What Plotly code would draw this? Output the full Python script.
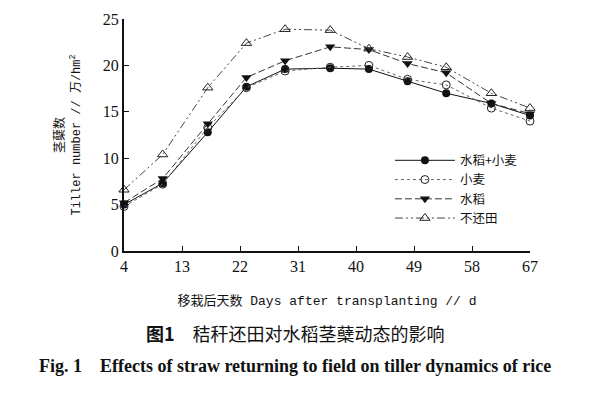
import plotly.graph_objects as go

days = [4, 10, 17, 23, 29, 36, 42, 48, 54, 61, 67]
rice_wheat = [5.0, 7.3, 12.8, 17.7, 19.6, 19.7, 19.6, 18.3, 17.0, 15.9, 14.6]
wheat = [4.8, 7.2, 13.3, 17.6, 19.4, 19.8, 20.0, 18.5, 17.9, 15.4, 14.0]
rice = [5.2, 7.8, 13.7, 18.7, 20.5, 22.0, 21.7, 20.2, 19.2, 15.9, 14.8]
no_return = [6.6, 10.4, 17.6, 22.4, 23.9, 23.8, 21.8, 20.9, 19.8, 17.0, 15.4]

x_ticks = [4, 13, 22, 31, 40, 49, 58, 67]
y_ticks = [0, 5, 10, 15, 20, 25]

names = ["水稻+小麦", "小麦", "水稻", "不还田"]

series = [
    (names[0], rice_wheat, dict(color="#111", width=1), dict(symbol="circle", size=8, color="#111")),
    (names[1], wheat, dict(color="#666", width=1, dash="dot"), dict(symbol="circle-open", size=8, color="#222", line=dict(width=1))),
    (names[2], rice, dict(color="#333", width=1, dash="7px,3px"), dict(symbol="triangle-down", size=9, color="#111")),
    (names[3], no_return, dict(color="#444", width=1, dash="8px,3px,2px,3px,2px,3px"), dict(symbol="triangle-up-open", size=9, color="#222", line=dict(width=1))),
]

fig = go.Figure()
for name, vals, line, marker in series:
    fig.add_trace(go.Scatter(x=days, y=vals, name=name, mode="lines+markers",
                             line=line, marker=marker, cliponaxis=False))

# page body has an 8px margin; figure coords = screen coords - 8
OFF = 8
W, H = 600 - OFF, 393 - OFF
L, T = 124 - OFF, 19 - OFF
R = W - (530 - OFF)
B = H - (251 - OFF)
pw, ph = W - L - R, H - T - B

serif = "Liberation Serif, Noto Sans CJK SC"
mono = "Liberation Mono, Noto Sans CJK SC"
fig.update_layout(
    width=W, height=H,
    margin=dict(l=L, r=R, t=T, b=B, autoexpand=False),
    paper_bgcolor="white", plot_bgcolor="white",
    showlegend=True,
    legend=dict(x=0.655, y=0.454, xanchor="left", yanchor="top",
                font=dict(family="Noto Sans CJK SC", size=12.5, color="#111"),
                bgcolor="rgba(0,0,0,0)", tracegroupgap=0, itemwidth=60),
    xaxis=dict(range=[4, 67], tickvals=x_ticks, ticks="inside", ticklen=5,
               showline=True, linecolor="#111", linewidth=2, tickcolor="#111",
               showgrid=False, zeroline=False, automargin=False,
               tickfont=dict(family=serif, size=16, color="#111"),
               title=dict(text="移栽后天数 Days after transplanting // d",
                          font=dict(family=mono, size=13, color="#111"),
                          standoff=22)),
    yaxis=dict(range=[0, 25], tickvals=y_ticks, ticks="inside", ticklen=5,
               showline=True, linecolor="#111", linewidth=2, tickcolor="#111",
               showgrid=False, zeroline=False, automargin=False,
               tickfont=dict(family=serif, size=16, color="#111"),
               title=dict(text="茎蘖数<br>Tiller number // 万/hm<sup>2</sup>",
                          font=dict(family=mono, size=12, color="#111"),
                          standoff=20)),
)

caption_cn = "<b>图1</b>　秸秆还田对水稻茎蘖动态的影响"
caption_en = "<b>Fig. 1　Effects of straw returning to field on tiller dynamics of rice</b>"

def px_to_paper(xs, ys):
    xp, yp = xs - OFF, ys - OFF
    return (xp - L) / pw, ((H - yp) - B) / ph

cx, cy = px_to_paper(295, 333)
ex, ey = px_to_paper(295, 366)
fig.add_annotation(text=caption_cn, x=cx, y=cy, xref="paper", yref="paper",
                   xanchor="center", yanchor="middle", showarrow=False,
                   font=dict(family="Noto Sans CJK SC", size=18, color="#111"))
fig.add_annotation(text=caption_en, x=ex, y=ey, xref="paper", yref="paper",
                   xanchor="center", yanchor="middle", showarrow=False,
                   font=dict(family="Liberation Serif", size=18, color="#111"))

fig.write_html("out.html")
